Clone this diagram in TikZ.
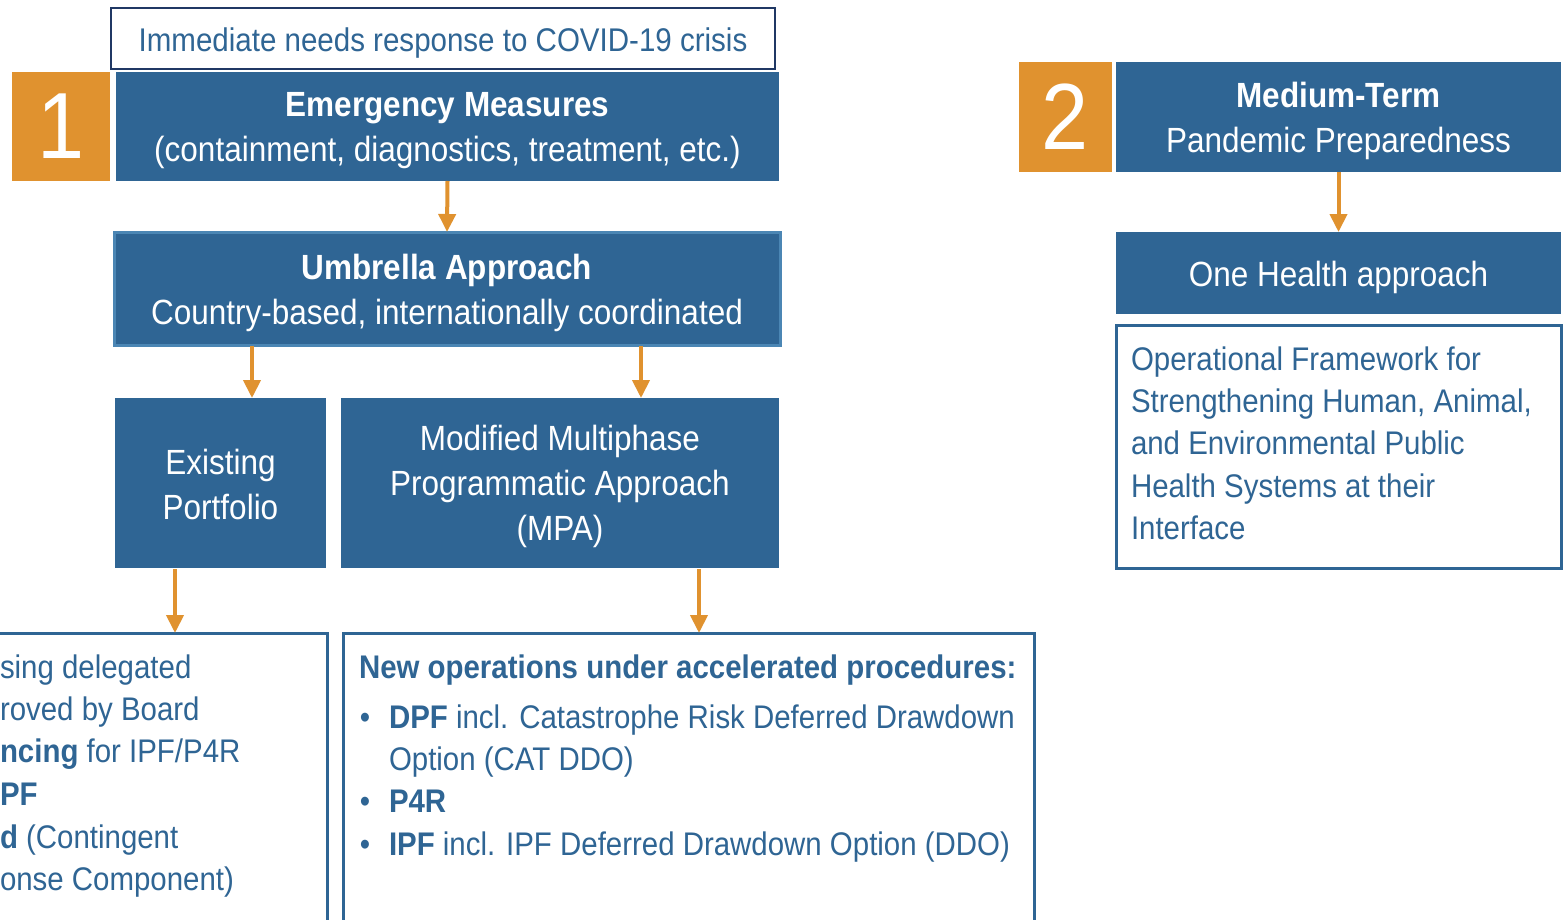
\documentclass[tikz,border=0pt]{standalone}
\usepackage{fontspec}
\setmainfont{Liberation Sans}[FakeStretch=0.9]
\usetikzlibrary{arrows.meta}
\definecolor{wbblue}{HTML}{2F6594}
\definecolor{wborange}{HTML}{E0922F}
\definecolor{wbnavy}{HTML}{203864}
\definecolor{wblight}{HTML}{4B86B4}
\tikzset{
  bluebox/.style={fill=wbblue, inner sep=0pt, outer sep=0pt},
  bluetext/.style={text=white, inner sep=0pt, outer sep=0pt, align=center,
    font=\fontsize{17.5}{22.5}\selectfont},
  numbox/.style={fill=wborange, text=white, inner sep=0pt, outer sep=0pt,
    font=\fontsize{47}{50}\selectfont},
  framebox/.style={draw=wbblue, line width=1.5pt, fill=white, inner sep=0pt, outer sep=0pt},
  content/.style={text=wbblue, inner sep=0pt, outer sep=0pt, font=\fontsize{16.35}{21.2}\selectfont},
  arr/.style={draw=wborange, line width=2pt, -{Triangle[width=8.5pt,length=9pt]}},
}
\begin{document}
\begin{tikzpicture}[x=0.5pt,y=-0.5pt]
\useasboundingbox (0,0) rectangle (1564,920);
\clip (0,0) rectangle (1564,920);
\fill[white] (0,0) rectangle (1564,920);

% Left column
\node[draw=wbnavy, line width=1pt, fill=white, inner sep=0pt, outer sep=0pt,
  minimum width=332pt, minimum height=30.5pt] (top) at (443,38.5) {};
\node[text=wbblue, inner sep=0pt, font=\fontsize{16.4}{20}\selectfont]
  (topT) at ([yshift=-2.3pt]top.center) {Immediate needs response to COVID-19 crisis};
\node[numbox, minimum width=49pt, minimum height=54.5pt] (one) at (61,126.5) {1};
\node[bluebox, minimum width=331.5pt, minimum height=54.5pt] (emerg) at (447.5,126.5) {};
\node[bluetext] (emergT) at ([yshift=-2.2pt]emerg.center)
  {\textbf{Emergency Measures}\\(containment, diagnostics, treatment, etc.)};
\node[bluebox, draw=wblight, line width=1.5pt, minimum width=333pt, minimum height=56.5pt] (umb) at (447,288.5) {};
\node[bluetext] (umbT) at ([yshift=-2pt]umb.center)
  {\textbf{Umbrella Approach}\\Country-based, internationally coordinated};
\node[bluebox, minimum width=105.5pt, minimum height=85pt] (exist) at (220.5,483) {};
\node[bluetext] (existT) at ([yshift=-0.8pt]exist.center) {Existing\\Portfolio};
\node[bluebox, minimum width=219pt, minimum height=85pt] (mpa) at (560,483) {};
\node[bluetext] (mpaT) at ([yshift=-1.7pt]mpa.center)
  {Modified Multiphase\\Programmatic Approach\\(MPA)};

\node[framebox, minimum width=173.5pt, minimum height=158.5pt] (leftbot) at (153.5,791.5) {};
\node[framebox, minimum width=345.5pt, minimum height=158.5pt] (rightbot) at (688.5,791.5) {};

% arrows left
\draw[arr] (emerg.south) -- (umb.north);
\coordinate (a1) at (252,346);
\coordinate (a2) at (641,346);
\draw[arr] (a1) -- (a1 |- exist.north);
\draw[arr] (a2) -- (a2 |- mpa.north);
\coordinate (a3) at (175,569);
\coordinate (a4) at (699,569);
\draw[arr] (a3) -- (a3 |- leftbot.north);
\draw[arr] (a4) -- (a4 |- rightbot.north);

% left bottom text (as shown at the picture's edge)
\node[content, anchor=base west] (l1) at (0,678) {sing delegated};
\node[content, anchor=base west] (l2) at (0,720) {roved by Board};
\node[content, anchor=base west] (l3) at (0,762) {\textbf{ncing} for IPF/P4R};
\node[content, anchor=base west] (l4) at (0,805) {\textbf{PF}};
\node[content, anchor=base west] (l5) at (0,848) {\textbf{d} (Contingent};
\node[content, anchor=base west] (l6) at (0,890) {onse Component)};

% right bottom text
\node[content, anchor=base west] (r0) at (359,678) {\textbf{New operations under accelerated procedures:}};
\node[content, anchor=base] (b1) at (365,728) {•};
\node[content, anchor=base west] (r1) at (389,728) {\textbf{DPF} incl. Catastrophe Risk Deferred Drawdown};
\node[content, anchor=base west] (r1b) at (389,770) {Option (CAT DDO)};
\node[content, anchor=base] (b2) at (365,812) {•};
\node[content, anchor=base west] (r2) at (389,812) {\textbf{P4R}};
\node[content, anchor=base] (b3) at (365,855) {•};
\node[content, anchor=base west] (r3) at (389,855) {\textbf{IPF} incl. IPF Deferred Drawdown Option (DDO)};

% Right column
\node[numbox, minimum width=46.5pt, minimum height=55pt] (two) at (1065.5,117) {2};
\node[bluebox, minimum width=222.5pt, minimum height=55pt] (med) at (1338.5,117) {};
\node[bluetext] (medT) at ([yshift=-2.2pt]med.center) {\textbf{Medium-Term}\\Pandemic Preparedness};
\node[bluebox, minimum width=222.5pt, minimum height=41pt] (oneh) at (1338.5,273) {};
\node[bluetext] (onehT) at ([yshift=-2pt]oneh.center) {One Health approach};
\node[framebox, minimum width=222.5pt, minimum height=121.5pt] (oper) at (1338.5,446.5) {};
\draw[arr] (med.south) -- (oneh.north);

\node[content, anchor=base west] (o1) at (1131,370) {Operational Framework for};
\node[content, anchor=base west] (o2) at (1131,412) {Strengthening Human, Animal,};
\node[content, anchor=base west] (o3) at (1131,454) {and Environmental Public};
\node[content, anchor=base west] (o4) at (1131,497) {Health Systems at their};
\node[content, anchor=base west] (o5) at (1131,539) {Interface};
\end{tikzpicture}
\end{document}
